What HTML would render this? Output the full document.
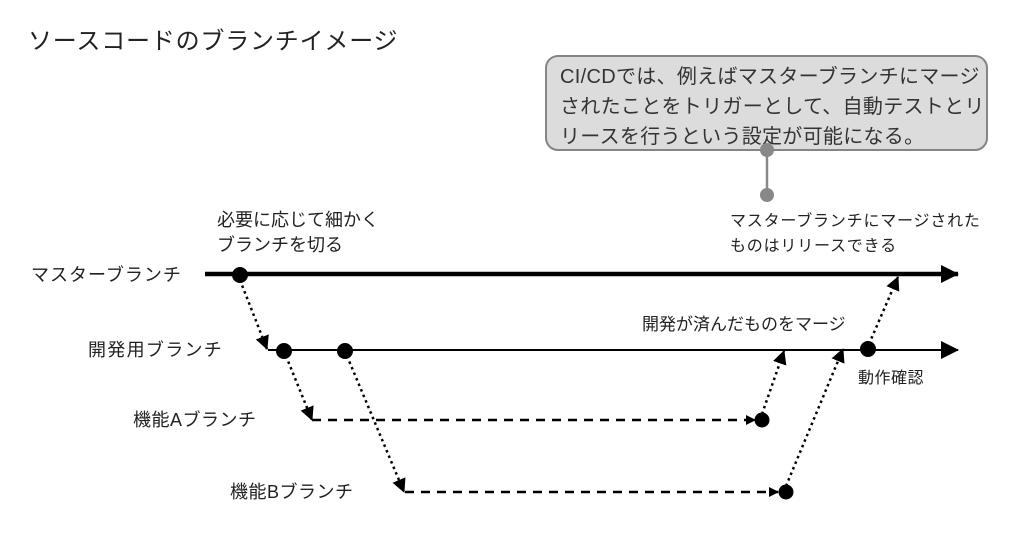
<!DOCTYPE html>
<html><head><meta charset="utf-8"><style>
body{margin:0;background:#fff;width:1024px;height:550px;overflow:hidden;position:relative;font-family:"Liberation Sans","Noto Sans CJK JP",sans-serif;color:#222}
.t{position:absolute;white-space:nowrap;line-height:1}
</style></head><body>
<div class="t" style="left:28px;top:30px;font-size:24px;letter-spacing:0.8px">ソースコードのブランチイメージ</div>
<div class="t" style="left:31px;top:266px;font-size:18px;letter-spacing:1px">マスターブランチ</div>
<div class="t" style="left:88px;top:341px;font-size:18px;letter-spacing:1.3px">開発用ブランチ</div>
<div class="t" style="left:133px;top:411px;font-size:18px;letter-spacing:0.5px">機能Aブランチ</div>
<div class="t" style="left:230px;top:483px;font-size:18px;letter-spacing:0.5px">機能Bブランチ</div>
<div class="t" style="left:217px;top:208px;font-size:18px;line-height:25px">必要に応じて細かく<br>ブランチを切る</div>
<div class="t" style="left:730px;top:209px;font-size:16px;letter-spacing:0.8px;line-height:25px">マスターブランチにマージされた<br>ものはリリースできる</div>
<div class="t" style="left:642px;top:316px;font-size:17px">開発が済んだものをマージ</div>
<div class="t" style="left:858px;top:371px;font-size:16px;letter-spacing:0.5px">動作確認</div>
<div style="position:absolute;left:545px;top:55px;width:439px;height:92px;background:#dcdcdc;border:2px solid #858585;border-radius:13px"></div>
<div class="t" style="left:560px;top:62px;font-size:20px;letter-spacing:0.3px;line-height:30px;color:#333">CI/CDでは、例えばマスターブランチにマージ<br>されたことをトリガーとして、自動テストとリ<br>リースを行うという設定が可能になる。</div>
<svg width="1024" height="550" style="position:absolute;left:0;top:0">
<defs>
<marker id="a" markerWidth="10" markerHeight="10" refX="9" refY="5" orient="auto" markerUnits="userSpaceOnUse"><path d="M0,0L10,5L0,10z" fill="#000"/></marker>
<marker id="b" markerWidth="14" markerHeight="14" refX="13" refY="7" orient="auto" markerUnits="userSpaceOnUse"><path d="M0,0L14,7L0,14z" fill="#000"/></marker>
<marker id="c" markerWidth="18" markerHeight="18" refX="17" refY="9" orient="auto" markerUnits="userSpaceOnUse"><path d="M0,0L18,9L0,18z" fill="#000"/></marker>
</defs>
<line x1="767" y1="150" x2="767" y2="195" stroke="#888" stroke-width="2.5"/>
<circle cx="767" cy="150" r="7" fill="#888"/><circle cx="767" cy="195" r="7" fill="#888"/>
<line x1="205" y1="274" x2="958" y2="274" stroke="#000" stroke-width="4.5" marker-end="url(#c)"/>
<line x1="268" y1="350" x2="958" y2="350" stroke="#000" stroke-width="2" marker-end="url(#c)"/>
<line x1="312" y1="420" x2="755" y2="420" stroke="#000" stroke-width="2.5" stroke-dasharray="9,7" marker-end="url(#a)"/>
<line x1="405" y1="492" x2="778" y2="492" stroke="#000" stroke-width="2.5" stroke-dasharray="9,7" marker-end="url(#a)"/>
<g stroke="#000" stroke-width="2.5" stroke-dasharray="2.5,3.5" fill="none">
<line x1="240" y1="280" x2="267" y2="349" marker-end="url(#b)"/>
<line x1="286" y1="356" x2="312" y2="420" marker-end="url(#b)"/>
<line x1="347" y1="356" x2="404" y2="492" marker-end="url(#b)"/>
<line x1="762" y1="414" x2="784" y2="351" marker-end="url(#b)"/>
<line x1="786" y1="486" x2="843" y2="349" marker-end="url(#b)"/>
<line x1="869" y1="344" x2="898" y2="277" marker-end="url(#b)"/>
</g>
<circle cx="240" cy="275" r="8"/><circle cx="284" cy="351" r="8"/><circle cx="345" cy="351" r="8"/>
<circle cx="762" cy="420" r="7.5"/><circle cx="786" cy="492" r="7.5"/><circle cx="868" cy="349" r="8"/>
</svg>
</body></html>
